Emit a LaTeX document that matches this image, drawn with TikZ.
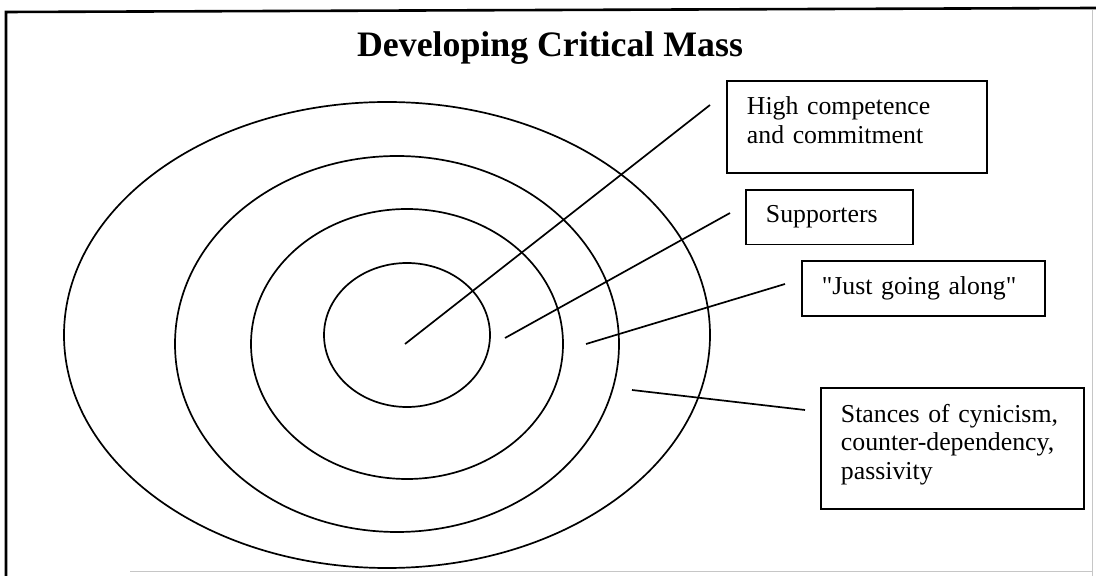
\documentclass[tikz,border=0pt]{standalone}
\usepackage{fontspec}
\setmainfont{Liberation Serif}[Ligatures=TeXOff]
\tikzset{
  callout/.style={draw,line width=0.9pt,anchor=north west,align=left,inner xsep=10pt,inner ysep=8pt,font=\fontsize{12.9}{14.3}\selectfont},
  ring/.style={line width=0.85pt},
  leader/.style={line width=0.85pt}
}
\newcommand{\lowgap}[1]{\rule[-#1]{0pt}{0pt}}
\begin{document}
\begin{tikzpicture}[x=0.5pt,y=-0.5pt]
\useasboundingbox (0,0) rectangle (1096,576);
\draw[line width=1.3pt] (6,576) -- (6,12) -- (1096,8);
\draw[gray!45,line width=0.5pt] (1092,10) -- (1092,576) (130,571) -- (1092,571);
\node[anchor=base,font=\fontsize{17.9}{20}\selectfont\bfseries] (title) at (550,57) {Developing Critical Mass};
\draw[ring] (387,335) ellipse [x radius=323, y radius=233] (397,344) ellipse [x radius=222, y radius=188] (407,344) ellipse [x radius=156, y radius=135] (407,335) ellipse [x radius=83, y radius=72];
\node[callout,text width=110pt] (core) at (726,80) {High competence\\and commitment\lowgap{6.7pt}};
\node[callout,text width=63.5pt] (supp) at (745,189) {Supporters};
\node[callout,text width=101.5pt] (along) at (801,260) {"Just going along"};
\node[callout,text width=111.5pt] (stance) at (820,387) {Stances of cynicism,\\counter-dependency,\\passivity\lowgap{7pt}};
\coordinate (core-in) at (405,344);
\coordinate (core-out) at (710,105);
\coordinate (supp-in) at (505,338);
\coordinate (supp-out) at (730,213);
\coordinate (along-in) at (586,344);
\coordinate (along-out) at (785,284);
\coordinate (stance-in) at (632,390);
\coordinate (stance-out) at (805,410);
\draw[leader] (core-in) -- (core-out) (supp-in) -- (supp-out) (along-in) -- (along-out) (stance-in) -- (stance-out);
\end{tikzpicture}
\end{document}
